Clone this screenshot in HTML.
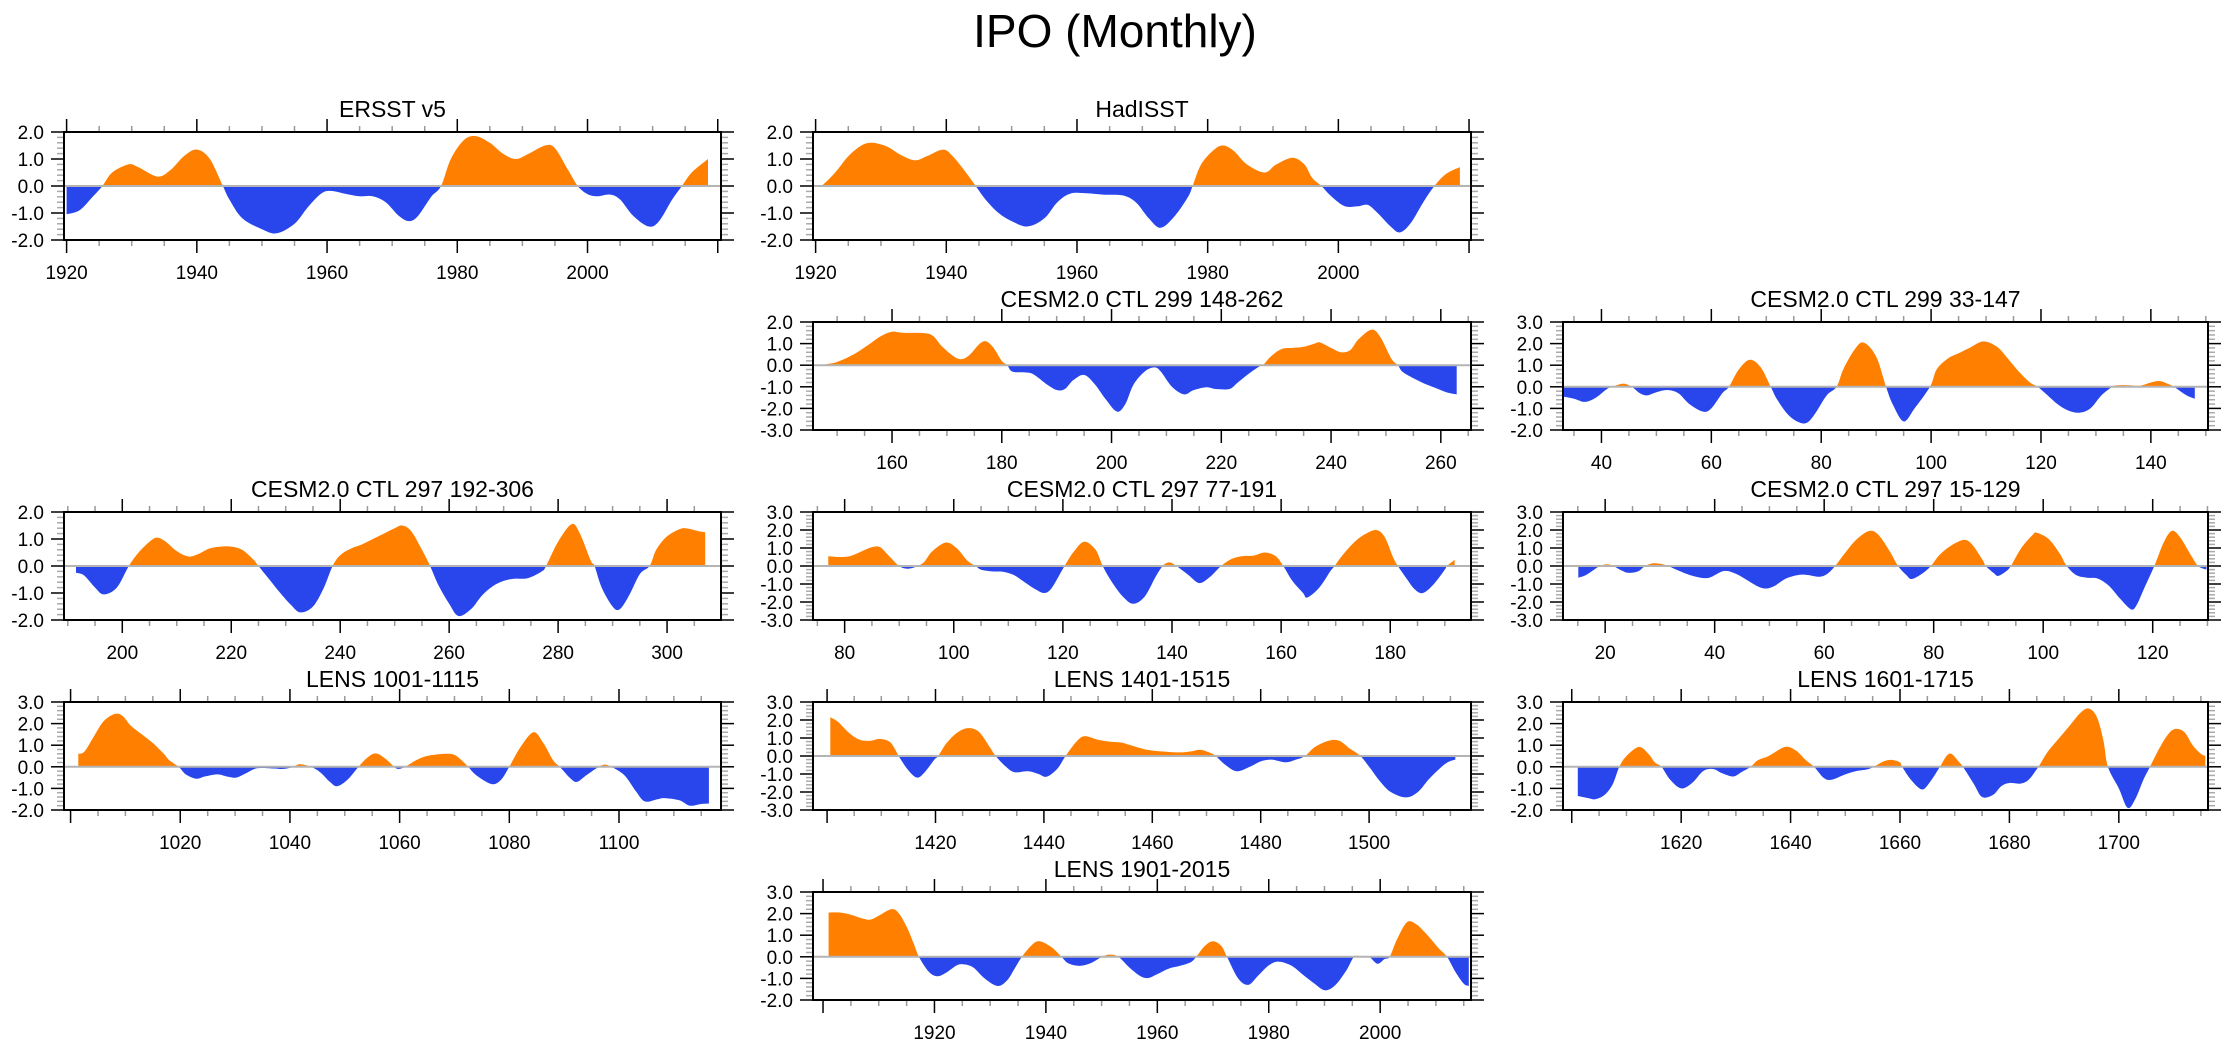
<!DOCTYPE html>
<html><head><meta charset="utf-8"><title>IPO (Monthly)</title>
<style>html,body{margin:0;padding:0;background:#fff}svg{display:block}text{font-family:"Liberation Sans",sans-serif;fill:#000}</style>
</head><body>
<svg id="chart" xmlns="http://www.w3.org/2000/svg" width="2230" height="1047" viewBox="0 0 2230 1047">
<rect width="2230" height="1047" fill="#fff"/>
<text x="1115" y="47" font-size="46" text-anchor="middle">IPO (Monthly)</text>
</svg>
<script>
const ersstYears=[1920,1922,1924,1925.5,1927,1929.5,1931,1934,1936,1938,1940,1942,1944,1945,1947,1950,1952.3,1955,1957,1959,1960.5,1963,1965,1967,1969,1971,1972.6,1974,1976,1977.5,1979,1981,1982.8,1985,1987,1989,1991,1993.5,1995,1997,1998.5,2000,2001.5,2003.5,2005,2007,2009.4,2011,2013,2014.5,2016,2018.5];
const ersstVals=[-1.05,-0.9,-0.4,0,0.5,0.8,0.7,0.35,0.6,1.1,1.35,1.0,0,-0.5,-1.2,-1.6,-1.75,-1.4,-0.8,-0.3,-0.18,-0.3,-0.38,-0.38,-0.6,-1.1,-1.3,-1.1,-0.4,0,1.0,1.7,1.85,1.6,1.2,1.0,1.2,1.5,1.4,0.6,0,-0.3,-0.38,-0.32,-0.5,-1.1,-1.5,-1.3,-0.5,0,0.5,1.0];
const hadYears=[1920.5,1921,1923,1925,1927,1928.7,1931,1933,1935.2,1937,1939.5,1941,1943,1944.5,1946,1948,1950,1952.4,1955,1957,1959,1961.5,1964,1967,1969,1971,1972.8,1975,1977,1977.7,1979,1981,1982.4,1984,1986,1988.7,1990.5,1993,1994.8,1996,1997.4,1999,2001,2003,2004.5,2006,2008,2009.4,2011,2013,2014.7,2016.5,2018.6];
const hadVals=[0,0.02,0.5,1.1,1.5,1.6,1.45,1.15,0.95,1.1,1.35,1.1,0.5,0,-0.5,-1.0,-1.3,-1.5,-1.2,-0.6,-0.28,-0.27,-0.32,-0.35,-0.6,-1.2,-1.55,-1.1,-0.4,0,0.8,1.35,1.5,1.3,0.8,0.5,0.8,1.05,0.8,0.3,0,-0.4,-0.75,-0.75,-0.7,-1.0,-1.5,-1.72,-1.4,-0.6,0,0.45,0.7];
const c299aYears=[148,150,153,156,158,160,162,166,167.5,169,171,172.5,174,176,177.2,178.5,180,181,182,185,186.5,188,190,191.5,193,195,197,199,201,202.5,204,206,207.8,209,211,213.2,215,217.3,219,221.5,223,225,227,227.6,229,231,233,235,237,238,240,241.8,243.5,245,247.4,249,251,252.2,253,255,257,259,261,262.9];
const c299aVals=[0.05,0.15,0.5,1.0,1.35,1.55,1.5,1.48,1.35,0.9,0.45,0.28,0.45,1.0,1.1,0.8,0.2,0,-0.3,-0.35,-0.55,-0.85,-1.15,-1.1,-0.7,-0.45,-0.9,-1.6,-2.15,-1.8,-0.9,-0.3,-0.1,-0.3,-1.0,-1.35,-1.15,-1.02,-1.1,-1.1,-0.8,-0.4,-0.05,0,0.4,0.75,0.8,0.85,1.0,1.05,0.8,0.6,0.7,1.2,1.65,1.3,0.3,0,-0.3,-0.6,-0.85,-1.05,-1.25,-1.35];
const c299bYears=[33,35,37,39,41,42,44,45.5,47,48.3,50,52,54,56,58.5,60,62,63.2,65,67,69,70.8,72,74,76,77.5,79,81,82.8,84,86,87.7,90,91.8,93,95,97,99.8,101,103,105,107,109.5,112,114,116,118,119.4,121,123,125,127,129,131,133,134,136,138,140,141.5,143,144.2,146.5,148];
const c299bVals=[-0.45,-0.55,-0.7,-0.5,-0.1,0,0.15,0,-0.3,-0.4,-0.25,-0.15,-0.3,-0.8,-1.15,-1.0,-0.3,0,0.8,1.25,0.9,0,-0.6,-1.3,-1.65,-1.65,-1.2,-0.4,0,0.8,1.7,2.05,1.4,0,-0.8,-1.6,-1.0,0,0.8,1.3,1.55,1.8,2.1,1.85,1.3,0.7,0.2,0,-0.35,-0.8,-1.1,-1.2,-1.0,-0.4,0,0.07,0.07,0.05,0.2,0.27,0.15,0,-0.4,-0.55];
const c297aYears=[191.5,193,195,196.6,199,201.2,203,205,206.4,208,210,212.2,214,216,218,220,222,224,225,227,229,231,232.7,235,237,238.6,240,242,244,246,248,250,251.4,253,255,256.5,258,260,261.7,264,266,268,270,272,274.5,277,277.8,280,282.5,284,286,286.7,288,290,291.3,293,295,296.8,298,300,302.5,304,306,307];
const c297aVals=[-0.25,-0.35,-0.8,-1.05,-0.8,0,0.5,0.9,1.05,0.9,0.55,0.35,0.45,0.65,0.72,0.72,0.6,0.25,0,-0.5,-1.0,-1.45,-1.72,-1.5,-0.8,0,0.4,0.65,0.8,1.0,1.2,1.4,1.5,1.3,0.6,0,-0.7,-1.4,-1.85,-1.6,-1.1,-0.75,-0.55,-0.47,-0.45,-0.2,0,0.9,1.55,1.2,0.2,0,-0.8,-1.5,-1.6,-1.1,-0.3,0,0.6,1.1,1.38,1.38,1.28,1.25];
const c297bYears=[77,79,81,83,85,86.5,88,90,91.5,93,94.5,96,98.5,100.5,102.5,104,105,107,109,111,113,115,116.6,118,120.3,122,123.9,126,127.3,129,131,132.9,135,137,138.3,139.5,140.8,143,145,147,149,151,153,155,157,159,160.4,162,164,164.8,167,169,169.8,171,173,175,177.4,179,180.5,181.4,183,184.5,186,188,190,190.4,191.8];
const c297bVals=[0.55,0.5,0.55,0.8,1.05,1.05,0.6,0,-0.15,-0.05,0.2,0.8,1.3,1.0,0.3,0,-0.2,-0.3,-0.32,-0.5,-0.9,-1.3,-1.5,-1.2,0,0.8,1.35,0.9,0,-0.9,-1.7,-2.1,-1.7,-0.6,0,0.2,0,-0.5,-0.95,-0.6,0,0.4,0.55,0.58,0.75,0.55,0,-0.8,-1.5,-1.75,-1.2,-0.3,0,0.5,1.2,1.7,2.0,1.6,0.5,0,-0.7,-1.3,-1.5,-1.0,-0.2,0,0.35];
const c297cYears=[15.1,16.5,18,19,20.3,21.5,23,24.2,26,27.3,28.8,30.5,31.5,33,35,37,39,41.7,44,46,48,49.5,51,53,55.3,57,59,60.5,62,64,66,68.3,70,72,73.5,75,76,78,79.5,81,83,85.5,87,89,89.5,91,91.8,93.2,94.1,96,98,98.8,101,103,104.3,106,108,110,112,114,116,117,118.5,120.3,122,123.5,125,127,128.3,129.8];
const c297cVals=[-0.65,-0.5,-0.2,0,0.1,0,-0.25,-0.38,-0.3,0,0.15,0.1,0,-0.2,-0.45,-0.62,-0.65,-0.28,-0.45,-0.8,-1.15,-1.25,-1.1,-0.7,-0.5,-0.5,-0.6,-0.45,0,0.8,1.5,1.95,1.7,0.8,0,-0.5,-0.72,-0.4,0,0.6,1.1,1.45,1.2,0.3,0,-0.4,-0.55,-0.3,0,1.0,1.7,1.85,1.5,0.7,0,-0.5,-0.65,-0.7,-1.1,-1.8,-2.4,-2.2,-1.2,0,1.3,1.95,1.6,0.6,0,-0.2];
const l1001Years=[1001.4,1002.5,1004,1006,1008.1,1009.5,1011,1013,1015,1017,1018,1019.7,1021,1022.9,1024.5,1026.8,1028.5,1030.2,1032,1034,1037,1038.5,1040,1041,1042,1043.8,1045.5,1047.3,1048.6,1050.5,1052.5,1054,1055.6,1057.3,1059,1059.8,1061,1063,1065,1068.3,1070,1071.3,1072.5,1074,1076.8,1078.5,1080,1082,1084.4,1086.2,1088,1089.2,1091,1092.3,1094,1096,1097.3,1098.6,1101,1103,1104.7,1107,1108.3,1111,1112.9,1115,1116.4];
const l1001Vals=[0.6,0.7,1.3,2.1,2.45,2.35,1.9,1.5,1.1,0.6,0.3,0,-0.35,-0.55,-0.45,-0.35,-0.45,-0.5,-0.3,-0.07,-0.08,-0.1,-0.05,0.05,0.12,0,-0.25,-0.7,-0.9,-0.6,0,0.4,0.62,0.4,0,-0.1,0,0.3,0.5,0.6,0.55,0.3,0,-0.4,-0.8,-0.6,0,0.9,1.6,1.1,0.3,0,-0.5,-0.7,-0.4,-0.05,0.1,0,-0.4,-1.1,-1.6,-1.5,-1.45,-1.55,-1.8,-1.72,-1.7];
const l1401Years=[1400.6,1402,1404,1406,1408,1409.7,1411.5,1412.5,1413.2,1415,1416.6,1418,1419.8,1420.5,1422,1424,1426,1428,1430,1431.1,1433,1434.6,1437.1,1439,1440.5,1442.5,1444,1446,1447.5,1450,1452,1454.2,1456,1459,1462,1465,1467,1468.8,1470.5,1471.7,1473.5,1475.6,1478,1480,1482,1484.6,1486.5,1488.2,1490,1492.5,1494.5,1496.5,1498.4,1500,1502,1504,1506.8,1509,1511,1513,1514.5,1515.9];
const l1401Vals=[2.15,1.9,1.3,0.9,0.85,0.95,0.8,0.4,0,-0.8,-1.2,-0.9,-0.2,0,0.7,1.3,1.55,1.35,0.5,0,-0.6,-0.9,-0.85,-1.0,-1.15,-0.7,0,0.8,1.1,0.9,0.8,0.75,0.6,0.35,0.25,0.2,0.25,0.35,0.2,0,-0.5,-0.85,-0.6,-0.3,-0.2,-0.35,-0.2,0,0.5,0.85,0.85,0.4,0,-0.6,-1.4,-2.0,-2.3,-2.0,-1.3,-0.7,-0.35,-0.2];
const l1601Years=[1601.1,1603,1604.3,1606,1607.5,1608.7,1610,1612.3,1614,1615.2,1616.4,1618,1620,1622,1624,1625.8,1627.5,1629.5,1631,1632.7,1634,1636,1639,1641,1642.8,1644.3,1646,1647.5,1650,1652,1654,1655.2,1657,1658.5,1660,1660.4,1662,1664,1665.5,1667.3,1668.5,1669.4,1670.7,1671.5,1673.5,1675,1677,1678.5,1680,1682,1683.5,1685.3,1687,1689,1691,1693,1694.5,1696,1697.2,1698,1700,1701.6,1703,1704.5,1705.7,1707.5,1709,1710.3,1712,1713.5,1715,1715.8];
const l1601Vals=[-1.35,-1.45,-1.5,-1.3,-0.8,0,0.5,0.92,0.6,0.2,0,-0.6,-1.0,-0.75,-0.2,-0.1,-0.3,-0.45,-0.25,0,0.3,0.5,0.92,0.75,0.3,0,-0.5,-0.6,-0.35,-0.2,-0.12,0,0.25,0.32,0.2,0,-0.6,-1.05,-0.7,0,0.5,0.6,0.25,0,-0.8,-1.4,-1.3,-0.9,-0.75,-0.78,-0.6,0,0.7,1.3,1.9,2.5,2.7,2.3,1.2,0,-1.0,-1.9,-1.5,-0.6,0,0.9,1.5,1.75,1.6,1.0,0.6,0.5];
const l1901Years=[1901,1903,1905,1907,1908.5,1910,1912.2,1913.5,1915,1916.3,1917.2,1919,1920.5,1922,1924,1925.3,1927,1929,1931.3,1933,1934.5,1935.7,1937.5,1938.9,1941,1942.8,1944,1946,1948,1950.1,1951.4,1953,1955,1957,1958.4,1960,1962,1964,1966,1967,1968.5,1970,1971.5,1972.5,1974.5,1976.3,1978,1980,1981.7,1984,1986,1988,1990.1,1992,1994,1995.3,1996.5,1998,1999.5,2000.8,2001.7,2003,2004.8,2006.5,2008.5,2010.5,2012,2013.5,2015,2015.9];
const l1901Vals=[2.05,2.05,1.95,1.78,1.72,1.9,2.2,2.05,1.4,0.6,0,-0.7,-0.9,-0.75,-0.4,-0.35,-0.5,-1.0,-1.35,-1.1,-0.5,0,0.55,0.72,0.45,0,-0.3,-0.42,-0.3,0,0.1,0,-0.5,-0.9,-0.98,-0.8,-0.55,-0.42,-0.25,0,0.5,0.72,0.5,0,-1.0,-1.3,-0.9,-0.4,-0.22,-0.4,-0.8,-1.2,-1.55,-1.3,-0.6,0,0.03,0,-0.32,-0.1,0,0.8,1.6,1.5,1.0,0.4,0,-0.7,-1.25,-1.35];

const panelTitles=["ERSST v5","HadISST","CESM2.0 CTL 299 148-262","CESM2.0 CTL 299 33-147","CESM2.0 CTL 297 192-306","CESM2.0 CTL 297 77-191","CESM2.0 CTL 297 15-129","LENS 1001-1115","LENS 1401-1515","LENS 1601-1715","LENS 1901-2015"];
const panelYears=[ersstYears,hadYears,c299aYears,c299bYears,c297aYears,c297bYears,c297cYears,l1001Years,l1401Years,l1601Years,l1901Years];
const panelVals=[ersstVals,hadVals,c299aVals,c299bVals,c297aVals,c297bVals,c297cVals,l1001Vals,l1401Vals,l1601Vals,l1901Vals];
const xDomains=[[1919.6,2020.5],[1919.6,2020.3],[145.6,265.5],[33,150.4],[189.3,309.9],[74.2,194.8],[12.3,130.1],[998.8,1118.6],[1397.4,1518.8],[1598.4,1716.3],[1898.2,2016.3]];
const yDomains=[[-2,2],[-2,2],[-3,2],[-2,3],[-2,2],[-3,3],[-3,3],[-2,3],[-3,3],[-2,3],[-2,3]];

const layout=[[64,132,657],[813,132,658],[813,322,658],[1563,322,645],[64,512,657],[813,512,658],[1563,512,645],[64,702,657],[813,702,658],[1563,702,645],[813,892,658]];
const PH=108;
const NS="http://www.w3.org/2000/svg";
const svg=document.getElementById('chart');
function mk(tag,attrs,parent){const e=document.createElementNS(NS,tag);for(const k in attrs)e.setAttribute(k,attrs[k]);(parent||svg).appendChild(e);return e;}

panelTitles.forEach((title,i)=>{
  const [L,T,W]=layout[i];const B=T+PH,R=L+W;
  const [x0,x1]=xDomains[i],[y0,y1]=yDomains[i];
  const sx=v=>L+(v-x0)/(x1-x0)*W;
  const sy=v=>B-(v-y0)/(y1-y0)*PH;
  const g=mk('g',{});
  
  
  const t=mk('text',{x:L+W/2,y:T-15,'font-size':23,'text-anchor':'middle'},g);
  t.textContent=title;
  
  
  const ys=panelYears[i],vs=panelVals[i];
  const P=ys.map((y,k)=>[sx(y),sy(vs[k])]);
  let d='M'+P[0][0].toFixed(1)+','+P[0][1].toFixed(1);
  for(let k=0;k<P.length-1;k++){
    const p0=P[Math.max(0,k-1)],p1=P[k],p2=P[k+1],p3=P[Math.min(P.length-1,k+2)];
    const c1=[p1[0]+(p2[0]-p0[0])/6,p1[1]+(p2[1]-p0[1])/6];
    const c2=[p2[0]-(p3[0]-p1[0])/6,p2[1]-(p3[1]-p1[1])/6];
    d+='C'+c1[0].toFixed(1)+','+c1[1].toFixed(1)+' '+c2[0].toFixed(1)+','+c2[1].toFixed(1)+' '+p2[0].toFixed(1)+','+p2[1].toFixed(1);
  }
  const z=sy(0);
  d+='L'+P[P.length-1][0].toFixed(1)+','+z.toFixed(1)+'L'+P[0][0].toFixed(1)+','+z.toFixed(1)+'Z';
  const cpA=mk('clipPath',{id:'ca'+i},g);mk('rect',{x:L,y:T,width:W,height:z-T},cpA);
  const cpB=mk('clipPath',{id:'cb'+i},g);mk('rect',{x:L,y:z,width:W,height:B-z},cpB);
  const pa=mk('path',{d:d,fill:'#ff8000','clip-path':'url(#ca'+i+')'},g);
  
  
  const pb=mk('path',{d:d,fill:'#2846eb','clip-path':'url(#cb'+i+')'},g);
  
  
  const zl=mk('line',{x1:L,x2:R,y1:z,y2:z,stroke:'#b4b4b4','stroke-width':2},g);
  
  
  const firstYr=ys[0],lastYr=ys[ys.length-1];
  for(let v=Math.ceil(x0/5)*5;v<=x1;v+=5){
    const x=sx(v),maj=v%20===0;
    const len=maj?13:6,col=maj?'#000':'#999';
    mk('line',{x1:x,x2:x,y1:T,y2:T-len,stroke:col,'stroke-width':1.5},g);
    mk('line',{x1:x,x2:x,y1:B,y2:B+len,stroke:col,'stroke-width':1.5},g);
    if(maj && v>=firstYr-0.5 && v<=lastYr+0.5){const lt=mk('text',{x:x,y:B+39,'font-size':19,'text-anchor':'middle'},g);lt.textContent=v;
      
      }
  }
  for(let m=Math.round(y0*5);m<=Math.round(y1*5);m++){
    const v=m/5,y=sy(v),maj=m%5===0;
    const len=maj?13:7,col=maj?'#000':'#aaa';
    mk('line',{x1:L,x2:L-len,y1:y,y2:y,stroke:col,'stroke-width':1.5},g);
    mk('line',{x1:R,x2:R+len,y1:y,y2:y,stroke:col,'stroke-width':1.5},g);
    if(maj){const lt=mk('text',{x:L-20,y:y+7,'font-size':19,'text-anchor':'end'},g);lt.textContent=(v).toFixed(1);
      
      }
  }
  const fr=mk('rect',{x:L,y:T,width:W,height:PH,fill:'none',stroke:'#000','stroke-width':2},g);
  
  
});
</script>
</body></html>
